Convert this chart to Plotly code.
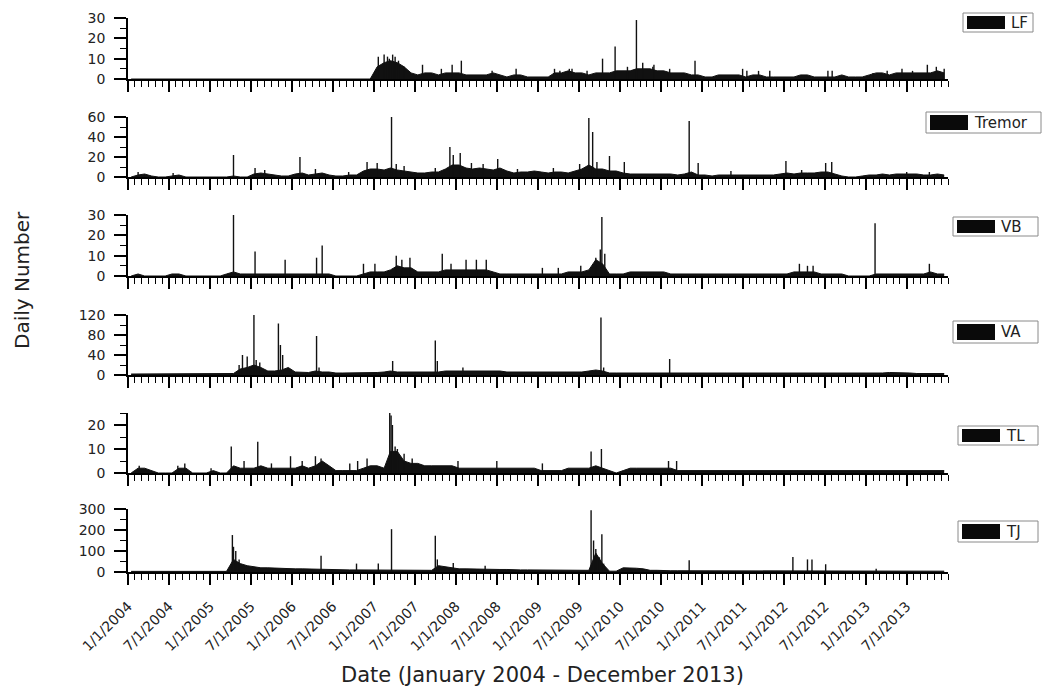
import plotly.graph_objects as go
import pandas as pd

# ---------------- data ----------------
months = pd.date_range("2004-01-01", periods=120, freq="MS")
mid_months = months + pd.Timedelta(days=14)

series_names = ["LF", "Tremor", "VB", "VA", "TL", "TJ"]

# typical monthly level of the daily counts (Jan 2004 .. Dec 2013)
lf_level = [0]*12 + [0]*12 + [0]*12 + \
    [6, 8, 9, 8, 6, 3, 2, 3, 3, 2, 3, 3] + \
    [3, 2, 2, 2, 2, 3, 2, 1, 2, 2, 1, 1] + \
    [1, 1, 3, 3, 4, 3, 3, 2, 3, 3, 3, 4] + \
    [4, 4, 5, 5, 5, 4, 4, 3, 3, 3, 2, 2] + \
    [1, 1, 2, 2, 2, 2, 1, 2, 2, 1, 1, 1] + \
    [1, 1, 2, 2, 1, 1, 1, 1, 2, 1, 1, 1] + \
    [2, 3, 3, 2, 3, 3, 3, 3, 3, 3, 4, 3]
tremor_level = [0, 2, 3, 1, 0, 0, 1, 2, 0, 0, 0, 0] + \
    [0, 0, 0, 1, 0, 0, 3, 4, 3, 2, 1, 1] + \
    [3, 4, 2, 3, 4, 2, 1, 1, 2, 2, 6, 8] + \
    [8, 7, 9, 7, 6, 5, 4, 4, 5, 5, 8, 12] + \
    [12, 9, 8, 9, 8, 7, 9, 6, 4, 5, 5, 6] + \
    [5, 4, 5, 5, 4, 6, 8, 12, 8, 8, 6, 6] + \
    [4, 3, 3, 3, 3, 3, 3, 3, 2, 3, 5, 2] + \
    [2, 1, 2, 2, 2, 2, 2, 2, 2, 2, 2, 3] + \
    [4, 3, 4, 4, 4, 5, 5, 3, 1, 0, 0, 1] + \
    [2, 2, 3, 2, 3, 3, 3, 3, 2, 2, 3, 2]
vb_level = [0, 1, 0, 0, 0, 0, 1, 1, 0, 0, 0, 0] + \
    [0, 0, 1, 2, 1, 1, 1, 1, 1, 1, 1, 1] + \
    [1, 1, 1, 1, 1, 1, 0, 0, 0, 0, 1, 2] + \
    [2, 2, 3, 5, 4, 4, 2, 2, 2, 2, 3, 3] + \
    [3, 3, 3, 3, 3, 2, 1, 1, 1, 1, 1, 1] + \
    [1, 1, 1, 1, 2, 2, 2, 3, 8, 6, 1, 1] + \
    [1, 2, 2, 2, 2, 2, 2, 1, 1, 1, 1, 1] + \
    [1, 1, 1, 1, 1, 1, 1, 1, 1, 1, 1, 1] + \
    [1, 2, 2, 2, 2, 1, 1, 1, 1, 0, 0, 0] + \
    [0, 1, 1, 1, 1, 1, 1, 1, 1, 2, 1, 1]
va_level = [2, 2, 3, 2, 2, 2, 2, 3, 2, 2, 2, 2] + \
    [2, 2, 2, 3, 12, 15, 20, 15, 8, 8, 10, 15] + \
    [6, 5, 5, 8, 6, 6, 4, 4, 4, 4, 4, 5] + \
    [5, 6, 8, 6, 6, 5, 5, 6, 6, 6, 8, 8] + \
    [8, 8, 8, 8, 8, 8, 8, 6, 6, 6, 6, 6] + \
    [6, 6, 6, 6, 6, 6, 6, 8, 10, 8, 4, 4] + \
    [4, 4, 3, 3, 3, 3, 3, 3, 3, 3, 3, 3] + \
    [3]*12 + [3]*12 + \
    [3, 3, 4, 5, 5, 4, 4, 3, 3, 3, 3, 3]
tl_level = [0, 2, 2, 1, 0, 0, 0, 2, 2, 0, 0, 0] + \
    [1, 0, 0, 3, 2, 2, 2, 3, 2, 2, 2, 2] + \
    [2, 3, 2, 3, 5, 3, 1, 1, 1, 1, 2, 3] + \
    [3, 2, 9, 9, 5, 4, 4, 3, 3, 3, 3, 3] + \
    [2]*12 + \
    [1, 1, 1, 1, 2, 2, 2, 2, 3, 2, 1, 0] + \
    [1, 2, 2, 2, 2, 2, 2, 2, 1, 1, 1, 1] + \
    [1]*12 + [1]*12 + [1]*12
tj_level = [3]*12 + \
    [3, 3, 3, 60, 40, 30, 25, 20, 20, 18, 18, 16] + \
    [15, 15, 14, 12, 12, 12, 10, 10, 10, 10, 10, 10] + \
    [8, 8, 8, 8, 8, 8, 8, 8, 8, 30, 25, 18] + \
    [15, 15, 14, 12, 14, 12, 12, 12, 10, 10, 10, 10] + \
    [8, 8, 8, 8, 8, 8, 8, 8, 90, 40, 4, 4] + \
    [20, 20, 18, 15, 8, 8, 6, 6, 6, 6, 6, 6] + \
    [5]*12 + \
    [5, 5, 5, 5, 5, 5, 5, 5, 5, 5, 4, 4] + \
    [5, 6, 6, 6, 5, 5, 5, 5, 5, 4, 4, 4]

# individual high days (date, daily number)
lf_spike_dates = ["2007-01-20", "2007-02-15", "2007-03-02", "2007-03-10", "2007-03-25", "2007-04-05",
                  "2007-04-20", "2007-05-15", "2007-08-05", "2007-10-28", "2007-12-15", "2008-01-25",
                  "2008-06-10", "2008-09-25", "2009-03-15", "2009-04-08", "2009-05-20", "2009-06-01",
                  "2009-08-07", "2009-10-15", "2009-12-10", "2010-02-03", "2010-03-15", "2010-04-12",
                  "2010-05-27", "2010-06-01", "2010-08-10", "2010-12-01", "2011-07-01", "2011-07-20",
                  "2011-09-10", "2011-10-30", "2012-07-15", "2012-08-03", "2013-02-01", "2013-04-05",
                  "2013-06-10", "2013-07-27", "2013-10-01", "2013-11-10", "2013-12-15"]
lf_spike_values = [11, 12, 11, 10, 12, 11, 9, 6, 7, 5, 7, 9, 4, 5, 5, 4, 5, 5, 4, 10, 16, 6, 29, 8, 6,
                   7, 5, 9, 5, 4, 4, 4, 4, 4, 3, 4, 5, 4, 7, 6, 5]

tremor_spike_dates = ["2004-02-15", "2004-07-20", "2005-04-15", "2005-07-20", "2005-09-01", "2006-02-05",
                      "2006-04-15", "2006-09-10", "2006-12-01", "2007-01-15", "2007-03-20", "2007-04-10",
                      "2007-05-15", "2007-10-01", "2007-12-05", "2007-12-20", "2008-01-20", "2008-03-10",
                      "2008-05-01", "2008-07-05", "2008-10-01", "2009-03-10", "2009-07-05", "2009-08-15",
                      "2009-09-01", "2009-09-20", "2009-11-15", "2010-01-20", "2010-11-05", "2010-12-15",
                      "2011-05-10", "2012-01-10", "2012-03-20", "2012-07-05", "2012-08-01", "2013-07-01",
                      "2013-10-10"]
tremor_spike_values = [5, 4, 22, 9, 7, 20, 8, 5, 15, 14, 60, 13, 11, 9, 30, 22, 24, 14, 13, 18, 8, 9, 13,
                       59, 45, 15, 21, 15, 56, 14, 6, 16, 7, 14, 15, 5, 5]

vb_spike_dates = ["2005-04-15", "2005-07-20", "2005-12-01", "2006-04-20", "2006-05-15", "2006-11-15",
                  "2007-01-05", "2007-04-10", "2007-05-05", "2007-06-10", "2007-11-01", "2007-12-10",
                  "2008-02-15", "2008-04-01", "2008-05-15", "2009-01-20", "2009-04-01", "2009-07-10",
                  "2009-09-15", "2009-10-05", "2009-10-12", "2009-10-25", "2012-03-10", "2012-04-15",
                  "2012-05-10", "2013-02-10", "2013-10-10"]
vb_spike_values = [30, 12, 8, 9, 15, 6, 6, 10, 8, 9, 11, 6, 8, 8, 8, 4, 4, 5, 9, 13, 29, 11, 6, 5, 5, 26, 6]

va_spike_dates = ["2005-05-10", "2005-05-25", "2005-06-15", "2005-07-15", "2005-07-25", "2005-08-10",
                  "2005-11-01", "2005-11-10", "2005-11-20", "2006-04-20", "2006-05-01", "2007-03-25",
                  "2007-10-01", "2007-10-10", "2008-02-01", "2009-10-08", "2009-10-20", "2010-08-10"]
va_spike_values = [20, 40, 37, 122, 30, 25, 103, 60, 40, 78, 15, 28, 69, 28, 15, 115, 15, 32]

tl_spike_dates = ["2004-02-20", "2004-08-10", "2004-09-10", "2005-01-05", "2005-04-05", "2005-06-01",
                  "2005-08-01", "2005-10-01", "2005-12-25", "2006-02-15", "2006-04-15", "2006-05-10",
                  "2006-09-15", "2006-10-20", "2006-12-01", "2007-03-12", "2007-03-18", "2007-03-24",
                  "2007-04-05", "2007-04-15", "2007-05-15", "2007-06-20", "2008-01-10", "2008-07-01",
                  "2009-01-20", "2009-08-25", "2009-10-10", "2010-08-05", "2010-09-10"]
tl_spike_values = [3, 3, 4, 2, 11, 5, 13, 4, 7, 5, 7, 6, 4, 5, 6, 25, 24, 20, 11, 10, 8, 6, 5, 5, 4, 9,
                   10, 5, 5]

tj_spike_dates = ["2005-04-10", "2005-04-15", "2005-04-25", "2005-05-10", "2006-05-10", "2006-10-15",
                  "2007-01-20", "2007-03-20", "2007-10-01", "2007-10-10", "2007-12-20", "2008-05-10",
                  "2009-08-25", "2009-09-05", "2009-09-15", "2009-10-01", "2009-10-12", "2009-10-20",
                  "2010-11-05", "2012-02-10", "2012-04-15", "2012-05-05", "2012-07-05", "2013-02-15"]
tj_spike_values = [176, 120, 100, 60, 77, 40, 40, 204, 173, 60, 43, 30, 294, 150, 110, 70, 180, 40, 56,
                   72, 60, 60, 37, 15]

y_max = [30, 60, 30, 120, 25, 300]
y_tick_vals = [[0, 10, 20, 30], [0, 20, 40, 60], [0, 10, 20, 30], [0, 40, 80, 120], [0, 10, 20], [0, 100, 200, 300]]
y_minor_step = [5, 10, 5, 20, 5, 50]

x_tick_vals = ["2004-01-01", "2004-07-01", "2005-01-01", "2005-07-01", "2006-01-01", "2006-07-01",
               "2007-01-01", "2007-07-01", "2008-01-01", "2008-07-01", "2009-01-01", "2009-07-01",
               "2010-01-01", "2010-07-01", "2011-01-01", "2011-07-01", "2012-01-01", "2012-07-01",
               "2013-01-01", "2013-07-01"]
x_tick_text = ["1/1/2004", "7/1/2004", "1/1/2005", "7/1/2005", "1/1/2006", "7/1/2006", "1/1/2007",
               "7/1/2007", "1/1/2008", "7/1/2008", "1/1/2009", "7/1/2009", "1/1/2010", "7/1/2010",
               "1/1/2011", "7/1/2011", "1/1/2012", "7/1/2012", "1/1/2013", "7/1/2013"]

levels = [lf_level, tremor_level, vb_level, va_level, tl_level, tj_level]
spikes = [(lf_spike_dates, lf_spike_values), (tremor_spike_dates, tremor_spike_values),
          (vb_spike_dates, vb_spike_values), (va_spike_dates, va_spike_values),
          (tl_spike_dates, tl_spike_values), (tj_spike_dates, tj_spike_values)]

# ---------------- layout helpers (reference pixels -> paper) ----------------
OFF = 8                      # page body margin of the browser
W, H = 1053 - OFF, 691 - OFF
L, R, T, B = 128, 948, 18, 572   # plot area in reference pixels


def px_x(p):
    return (p - L) / (R - L)


def px_y(p):
    return (B - p) / (B - T)


panel_px = [(18, 79), (117, 177), (215, 276), (315, 375), (413, 473), (509, 572)]
legend_px = [(963, 1033, 13, 32), (926, 1041, 112, 133), (953, 1038, 217, 236),
             (953, 1038, 321, 343), (958, 1038, 426, 445), (958, 1038, 521, 542)]

FONT = "DejaVu Sans"
TXT = "#222222"
INK = "#111111"

fig = go.Figure()
layout = dict(
    width=W, height=H,
    margin=dict(l=L - OFF, r=W - (R - OFF), t=T - OFF, b=H - (B - OFF), autoexpand=False),
    paper_bgcolor="white", plot_bgcolor="rgba(0,0,0,0)",
    showlegend=False,
    font=dict(family=FONT, size=14, color=TXT),
    shapes=[], annotations=[],
)

for i in range(6):
    n = i + 1
    xa = "x" if n == 1 else f"x{n}"
    ya = "y" if n == 1 else f"y{n}"
    fig.add_trace(go.Scatter(
        x=mid_months, y=levels[i], mode="lines", fill="tozeroy",
        line=dict(color=INK, width=1), fillcolor=INK,
        xaxis=xa, yaxis=ya, hoverinfo="skip"))
    sx, sy = [], []
    for d, v in zip(*spikes[i]):
        sx += [d, d, None]
        sy += [0, v, None]
    fig.add_trace(go.Scatter(
        x=sx, y=sy, mode="lines", line=dict(color=INK, width=1.4),
        xaxis=xa, yaxis=ya, hoverinfo="skip"))

    top, bot = panel_px[i]
    xkey = "xaxis" if n == 1 else f"xaxis{n}"
    ykey = "yaxis" if n == 1 else f"yaxis{n}"
    layout[xkey] = dict(
        domain=[0, 1], anchor=ya, type="date",
        range=["2004-01-01", "2014-01-01"],
        showline=True, linecolor="black", linewidth=1.5,
        showgrid=False, zeroline=False,
        ticks="outside", ticklen=11, tickwidth=1.5, tickcolor="black",
        tickmode="array", tickvals=x_tick_vals, ticktext=x_tick_text,
        tickangle=-45, tickfont=dict(family=FONT, size=14, color=TXT),
        ticklabelstandoff=8,
        showticklabels=(n == 6),
        minor=dict(ticks="outside", ticklen=6, tickwidth=1.2, tickcolor="black",
                   tickmode="linear", tick0="2004-01-01", dtick="M1", showgrid=False),
    )
    if n > 1:
        layout[xkey]["matches"] = "x"
    layout[ykey] = dict(
        domain=[px_y(bot), px_y(top)], anchor=xa,
        range=[0, y_max[i]], fixedrange=True,
        showline=True, linecolor="black", linewidth=1.5,
        showgrid=False, zeroline=False,
        ticks="outside", ticklen=12, tickwidth=1.5, tickcolor="black",
        tickmode="array", tickvals=y_tick_vals[i],
        tickfont=dict(family=FONT, size=14, color=TXT),
        ticklabelstandoff=6,
        minor=dict(ticks="outside", ticklen=6, tickwidth=1.2, tickcolor="black",
                   tickmode="linear", tick0=0, dtick=y_minor_step[i], showgrid=False),
    )

    # legend box
    x0, x1, y0, y1 = legend_px[i]
    layout["shapes"].append(dict(type="rect", xref="paper", yref="paper",
                                 x0=px_x(x0), x1=px_x(x1), y0=px_y(y1), y1=px_y(y0),
                                 line=dict(color="#8a8a8a", width=1), fillcolor="white"))
    layout["shapes"].append(dict(type="rect", xref="paper", yref="paper",
                                 x0=px_x(x0 + 4), x1=px_x(x0 + 42), y0=px_y(y1 - 3), y1=px_y(y0 + 3),
                                 line=dict(width=0), fillcolor="#0a0a0a"))
    layout["annotations"].append(dict(xref="paper", yref="paper", x=px_x(x0 + 46), y=px_y((y0 + y1) / 2),
                                      xanchor="left", yanchor="middle", showarrow=False,
                                      text=series_names[i], font=dict(family=FONT, size=15, color=TXT)))

layout["annotations"].append(dict(xref="paper", yref="paper", x=px_x(22), y=px_y(280),
                                  xanchor="center", yanchor="middle", showarrow=False, textangle=-90,
                                  text="Daily Number", font=dict(family=FONT, size=20, color=TXT)))
layout["annotations"].append(dict(xref="paper", yref="paper", x=px_x(542), y=px_y(675),
                                  xanchor="center", yanchor="middle", showarrow=False,
                                  text="Date (January 2004 - December 2013)",
                                  font=dict(family=FONT, size=21, color=TXT)))

fig.update_layout(**layout)
fig.write_html("out.html")
